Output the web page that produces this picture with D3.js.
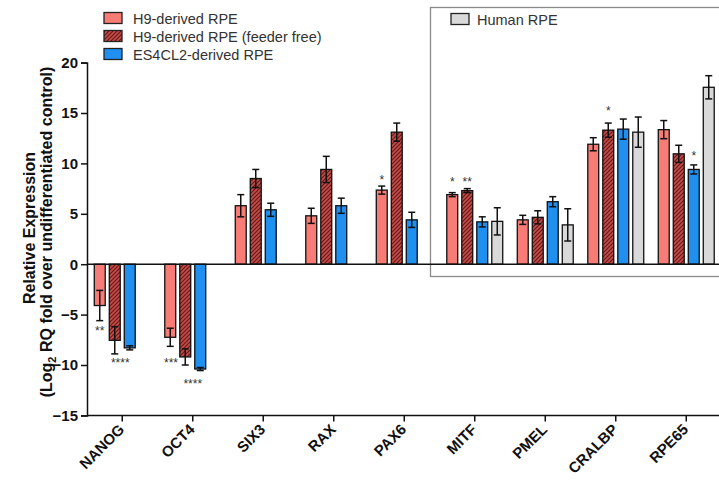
<!DOCTYPE html>
<html>
<head>
<meta charset="utf-8">
<script src="https://cdn.jsdelivr.net/npm/d3@7"></script>
<style>
  body { margin: 0; background: #fff; }
  svg { font-family: "Liberation Sans", Arial, sans-serif; }
</style>
</head>
<body>
<div id="chart"></div>
<script>
var genes = ["NANOG", "OCT4", "SIX3", "RAX", "PAX6", "MITF", "PMEL", "CRALBP", "RPE65"];
var seriesNames = ["H9-derived RPE", "H9-derived RPE (feeder free)", "ES4CL2-derived RPE", "Human RPE"];

var h9 = [-4.1, -7.25, 5.8, 4.8, 7.35, 6.9, 4.4, 11.9, 13.35];
var h9Err = [1.5, 0.9, 1.1, 0.75, 0.4, 0.2, 0.45, 0.65, 0.9];
var h9ff = [-7.55, -9.2, 8.5, 9.4, 13.1, 7.3, 4.65, 13.3, 10.95];
var h9ffErr = [1.35, 0.8, 0.9, 1.3, 0.9, 0.2, 0.65, 0.7, 0.85];
var es = [-8.3, -10.4, 5.4, 5.8, 4.4, 4.2, 6.2, 13.4, 9.4];
var esErr = [0.2, 0.15, 0.65, 0.75, 0.75, 0.5, 0.5, 1.0, 0.45];
var human = [null, null, null, null, null, 4.25, 3.9, 13.1, 17.55];
var humanErr = [null, null, null, null, null, 1.35, 1.6, 1.5, 1.15];

var yTicks = [-15, -10, -5, 0, 5, 10, 15, 20];

// significance marks: gene, slot (series index, may be fractional), label, value where the mark sits
var stars = [
    ["NANOG", 0, "**", -6.3],
    ["NANOG", 1.37, "****", -9.5],
    ["OCT4", 0.05, "***", -9.5],
    ["OCT4", 1.5, "****", -11.6],
    ["PAX6", 0, "*", 8.65],
    ["MITF", 0, "*", 8.45],
    ["MITF", 1, "**", 8.45],
    ["CRALBP", 1, "*", 15.5],
    ["RPE65", 2, "*", 11.05]
];

var colors = ["#f87c76", "url(#hatch)", "#1f8ff0", "#d9d9d9"];

var width = 719, height = 483;
var margin = { top: 62.6, left: 87, bottom: 67.6 };

var svg = d3.select("#chart").append("svg")
    .attr("width", width)
    .attr("height", height);

var defs = svg.append("defs");
var pat = defs.append("pattern")
    .attr("id", "hatch")
    .attr("patternUnits", "userSpaceOnUse")
    .attr("width", 4)
    .attr("height", 4);
pat.append("rect").attr("width", 4).attr("height", 4).attr("fill", "#bf4d4a");
pat.append("path")
    .attr("d", "M-1,1 l2,-2 M0,4 l4,-4 M3,5 l2,-2")
    .attr("stroke", "#6a1515")
    .attr("stroke-width", 1.1);

var x = d3.scaleBand()
    .domain(genes)
    .range([margin.left, margin.left + 9 * 70.5])
    .padding(0);

var slot = d3.scaleBand()
    .domain([0, 1, 2, 3])
    .range([5.25, 65.25])
    .paddingInner(0.27)
    .paddingOuter(0.135);

var y = d3.scaleLinear()
    .domain([-15, 20])
    .range([height - margin.bottom, margin.top]);

// Human RPE box
svg.append("rect")
    .attr("x", 430.5)
    .attr("y", 7.5)
    .attr("width", 320)
    .attr("height", 269)
    .attr("fill", "none")
    .attr("stroke", "#8a8a8a")
    .attr("stroke-width", 1.3);

var allSeries = [
    { vals: h9, errs: h9Err },
    { vals: h9ff, errs: h9ffErr },
    { vals: es, errs: esErr },
    { vals: human, errs: humanErr }
];

var bars = [];
allSeries.forEach(function(s, si) {
    genes.forEach(function(g, gi) {
        if (s.vals[gi] == null) return;
        bars.push({ gene: g, s: si, v: s.vals[gi], e: s.errs[gi] });
    });
});

svg.selectAll(".bar")
    .data(bars)
    .enter()
    .append("rect")
    .attr("class", "bar")
    .attr("x", function(d) { return x(d.gene) + slot(d.s); })
    .attr("width", slot.bandwidth())
    .attr("y", function(d) { return y(Math.max(0, d.v)); })
    .attr("height", function(d) { return Math.abs(y(d.v) - y(0)); })
    .attr("fill", function(d) { return colors[d.s]; })
    .attr("stroke", "#111")
    .attr("stroke-width", 1.3);

var cx = function(d) { return x(d.gene) + slot(d.s) + slot.bandwidth() / 2; };
var err = svg.selectAll(".err")
    .data(bars)
    .enter()
    .append("g")
    .attr("class", "err")
    .attr("stroke", "#111")
    .attr("stroke-width", 1.5);
err.append("line")
    .attr("x1", cx).attr("x2", cx)
    .attr("y1", function(d) { return y(d.v - d.e); })
    .attr("y2", function(d) { return y(d.v + d.e); });
err.append("line")
    .attr("x1", function(d) { return cx(d) - 3.5; })
    .attr("x2", function(d) { return cx(d) + 3.5; })
    .attr("y1", function(d) { return y(d.v + d.e); })
    .attr("y2", function(d) { return y(d.v + d.e); });
err.append("line")
    .attr("x1", function(d) { return cx(d) - 3.5; })
    .attr("x2", function(d) { return cx(d) + 3.5; })
    .attr("y1", function(d) { return y(d.v - d.e); })
    .attr("y2", function(d) { return y(d.v - d.e); });

svg.selectAll(".star")
    .data(stars)
    .enter()
    .append("text")
    .attr("class", "star")
    .attr("x", function(d) { return x(d[0]) + slot(0) + slot.step() * d[1] + slot.bandwidth() / 2; })
    .attr("y", function(d) { return y(d[3]) + 7; })
    .attr("text-anchor", "middle")
    .attr("font-size", 12)
    .attr("fill", "#333")
    .text(function(d) { return d[2]; });

// zero line
svg.append("line")
    .attr("x1", margin.left)
    .attr("x2", width)
    .attr("y1", y(0))
    .attr("y2", y(0))
    .attr("stroke", "#111")
    .attr("stroke-width", 1.5);

// y axis
var yAxis = svg.append("g")
    .attr("transform", "translate(" + margin.left + ",0)")
    .call(d3.axisLeft(y).tickValues(yTicks).tickSize(6).tickPadding(3));
yAxis.selectAll("path, line").attr("stroke", "#111").attr("stroke-width", 1.5);
yAxis.selectAll("text")
    .attr("font-family", "Liberation Sans, Arial, sans-serif")
    .attr("font-size", 15)
    .attr("font-weight", "bold")
    .attr("fill", "#111");

// x axis
var xAxis = svg.append("g")
    .attr("transform", "translate(0," + y(-15) + ")")
    .call(d3.axisBottom(x).tickSize(6).tickSizeOuter(0));
xAxis.select(".domain").attr("d", "M" + margin.left + ",0H" + width);
xAxis.selectAll("path, line").attr("stroke", "#111").attr("stroke-width", 1.5);
xAxis.selectAll("text")
    .attr("font-family", "Liberation Sans, Arial, sans-serif")
    .attr("font-size", 15)
    .attr("font-weight", "bold")
    .attr("fill", "#111")
    .attr("text-anchor", "end")
    .attr("dy", null)
    .attr("y", null)
    .attr("transform", "translate(3,15) rotate(-45)");

// y label
var yl = svg.append("g")
    .attr("font-weight", "bold")
    .attr("font-size", 16)
    .attr("fill", "#111")
    .attr("text-anchor", "middle");
yl.append("text")
    .attr("transform", "translate(35,228) rotate(-90)")
    .text("Relative Expression");
var t2 = yl.append("text")
    .attr("transform", "translate(52,232) rotate(-90)");
t2.append("tspan").text("(Log");
t2.append("tspan").attr("font-size", 11).attr("dy", 4).text("2");
t2.append("tspan").attr("dy", -4).text(" RQ fold over undifferentiated control)");

// legend
var legendPos = [[104, 18], [104, 36], [104, 54], [451, 19]];
var lg = svg.selectAll(".legend")
    .data(seriesNames)
    .enter()
    .append("g")
    .attr("class", "legend")
    .attr("transform", function(d, i) { return "translate(" + legendPos[i][0] + "," + legendPos[i][1] + ")"; });
lg.append("rect")
    .attr("x", 0).attr("y", -5.5)
    .attr("width", 18).attr("height", 11)
    .attr("fill", function(d, i) { return colors[i]; })
    .attr("stroke", "#222")
    .attr("stroke-width", 1.3);
lg.append("text")
    .attr("x", function(d, i) { return i === 3 ? 26 : 29; })
    .attr("y", 5.5)
    .attr("font-size", 14.5)
    .attr("fill", "#333")
    .text(function(d) { return d; });
</script>
</body>
</html>
